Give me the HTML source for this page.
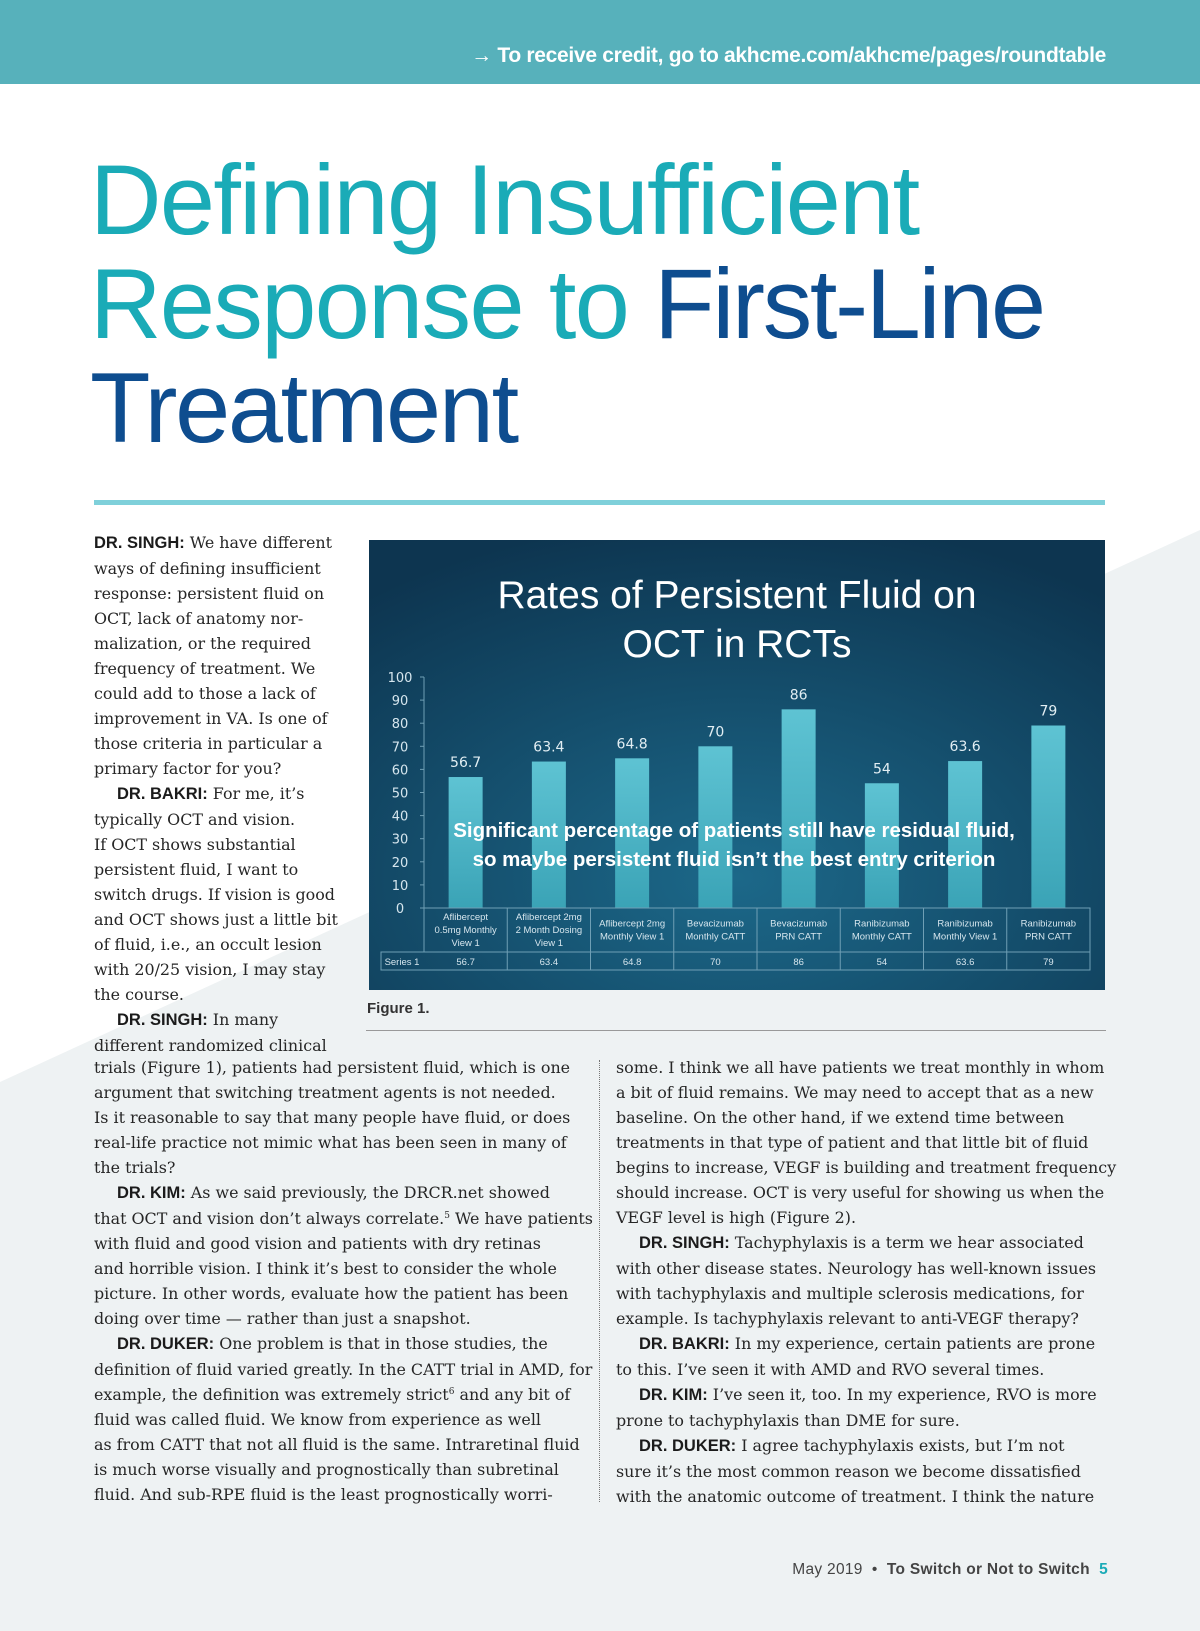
<!DOCTYPE html>
<html><head><meta charset="utf-8"><style>
*{margin:0;padding:0;box-sizing:border-box}
body{width:1200px;height:1631px;position:relative;overflow:hidden;background:#fff;font-family:"Liberation Serif",serif;color:#222}
.abs{position:absolute}
.hdr{left:0;top:0;width:1200px;height:84px;background:#57b1bb}
.hdr span{position:absolute;right:94px;top:44px;color:#fff;font:bold 21px "Liberation Sans",sans-serif;letter-spacing:-0.3px}
.title{left:90px;top:148px;font:400 99px/104px "Liberation Sans",sans-serif;letter-spacing:-1.6px;color:#1aabb7}
.title .n{color:#0e4d8f;letter-spacing:-2.3px}
.rule{left:94px;top:500px;width:1011px;height:5px;background:#7fd0da}
.txt{font-family:"DejaVu Serif",serif;font-size:15.9px;line-height:25px;white-space:nowrap;color:#262626}
.txt b{font-family:"Liberation Sans",sans-serif;font-size:16.5px;font-weight:bold;color:#1b1b1b}
.txt sup{font-size:9px;line-height:0;vertical-align:6px}
.ind{padding-left:23px}
</style></head><body>
<svg class="abs" style="left:0;top:0" width="1200" height="1631"><polygon points="0,1082 1200,530 1200,1631 0,1631" fill="#eef2f3"/></svg>
<div class="abs hdr"><span>→ To receive credit, go to akhcme.com/akhcme/pages/roundtable</span></div>
<div class="abs title">Defining Insufficient<br>Response to <span class="n">First-Line</span><br><span class="n">Treatment</span></div>
<div class="abs rule"></div>

<div class="abs txt" style="left:94px;top:530px">
<b>DR. SINGH:</b> We have different<br>ways of defining insufficient<br>response: persistent fluid on<br>OCT, lack of anatomy nor-<br>malization, or the required<br>frequency of treatment. We<br>could add to those a lack of<br>improvement in VA. Is one of<br>those criteria in particular a<br>primary factor for you?<br>
<div class="ind"><b>DR. BAKRI:</b> For me, it’s</div>typically OCT and vision.<br>If OCT shows substantial<br>persistent fluid, I want to<br>switch drugs. If vision is good<br>and OCT shows just a little bit<br>of fluid, i.e., an occult lesion<br>with 20/25 vision, I may stay<br>the course.<br>
<div class="ind"><b>DR. SINGH:</b> In many</div>different randomized clinical
</div>

<div class="abs txt" style="left:94px;top:1055px">
trials (Figure 1), patients had persistent fluid, which is one<br>argument that switching treatment agents is not needed.<br>Is it reasonable to say that many people have fluid, or does<br>real-life practice not mimic what has been seen in many of<br>the trials?<br>
<div class="ind"><b>DR. KIM:</b> As we said previously, the DRCR.net showed</div>that OCT and vision don’t always correlate.<sup>5</sup> We have patients<br>with fluid and good vision and patients with dry retinas<br>and horrible vision. I think it’s best to consider the whole<br>picture. In other words, evaluate how the patient has been<br>doing over time — rather than just a snapshot.<br>
<div class="ind"><b>DR. DUKER:</b> One problem is that in those studies, the</div>definition of fluid varied greatly. In the CATT trial in AMD, for<br>example, the definition was extremely strict<sup>6</sup> and any bit of<br>fluid was called fluid. We know from experience as well<br>as from CATT that not all fluid is the same. Intraretinal fluid<br>is much worse visually and prognostically than subretinal<br>fluid. And sub-RPE fluid is the least prognostically worri-
</div>
<div class="abs" style="left:599px;top:1060px;height:442px;border-left:1px dotted #777"></div>
<div class="abs txt" style="left:616px;top:1055px">
some. I think we all have patients we treat monthly in whom<br>a bit of fluid remains. We may need to accept that as a new<br>baseline. On the other hand, if we extend time between<br>treatments in that type of patient and that little bit of fluid<br>begins to increase, VEGF is building and treatment frequency<br>should increase. OCT is very useful for showing us when the<br>VEGF level is high (Figure 2).<br>
<div class="ind"><b>DR. SINGH:</b> Tachyphylaxis is a term we hear associated</div>with other disease states. Neurology has well-known issues<br>with tachyphylaxis and multiple sclerosis medications, for<br>example. Is tachyphylaxis relevant to anti-VEGF therapy?<br>
<div class="ind"><b>DR. BAKRI:</b> In my experience, certain patients are prone</div>to this. I’ve seen it with AMD and RVO several times.<br>
<div class="ind"><b>DR. KIM:</b> I’ve seen it, too. In my experience, RVO is more</div>prone to tachyphylaxis than DME for sure.<br>
<div class="ind"><b>DR. DUKER:</b> I agree tachyphylaxis exists, but I’m not</div>sure it’s the most common reason we become dissatisfied<br>with the anatomic outcome of treatment. I think the nature
</div>

<div class="abs" style="left:367px;top:1000px;font:bold 15px 'Liberation Sans',sans-serif;color:#333">Figure 1.</div>
<div class="abs" style="left:366px;top:1030px;width:740px;height:1px;background:#999"></div>

<svg class="abs" id="chart" style="left:369px;top:540px" width="736" height="450">
<defs>
<radialGradient id="bg" cx="0.5" cy="0.75" r="0.8"><stop offset="0" stop-color="#1c6889"/><stop offset="1" stop-color="#0d3550"/></radialGradient>
<linearGradient id="bar" x1="0" x2="0" y1="0" y2="1"><stop offset="0" stop-color="#5ec3d3"/><stop offset="1" stop-color="#3aa3b6"/></linearGradient>
</defs>
<rect width="736" height="450" fill="url(#bg)"/>
<text x="368" y="68" text-anchor="middle" fill="#fff" font-family="Liberation Sans, sans-serif" font-size="39">Rates of Persistent Fluid on</text>
<text x="368" y="117" text-anchor="middle" fill="#fff" font-family="Liberation Sans, sans-serif" font-size="39">OCT in RCTs</text>
<g id="g"></g>
<text x="365" y="297" text-anchor="middle" fill="#fff" font-family="Liberation Sans, sans-serif" font-weight="bold" font-size="20.5">Significant percentage of patients still have residual fluid,</text>
<text x="365" y="326" text-anchor="middle" fill="#fff" font-family="Liberation Sans, sans-serif" font-weight="bold" font-size="20.5">so maybe persistent fluid isn’t the best entry criterion</text>
</svg>
<script>
const categories=[["Aflibercept","0.5mg Monthly","View 1"],["Aflibercept 2mg","2 Month Dosing","View 1"],["Aflibercept 2mg","Monthly View 1"],["Bevacizumab","Monthly CATT"],["Bevacizumab","PRN CATT"],["Ranibizumab","Monthly CATT"],["Ranibizumab","Monthly View 1"],["Ranibizumab","PRN CATT"]];
const values=[56.7,63.4,64.8,70,86,54,63.6,79];
const valueLabels=["56.7","63.4","64.8","70","86","54","63.6","79"];
const yTicks=[0,10,20,30,40,50,60,70,80,90,100];
const NS="http://www.w3.org/2000/svg";
const g=document.getElementById('g');
const axX=55,y0=368,y100=137,tblL=12,tblR=721,plotL=55,plotR=721;
const band=(plotR-plotL)/categories.length;
const y=v=>y0-(v/100)*(y0-y100);
const xc=i=>plotL+band*(i+0.5);
function mk(t,a){const e=document.createElementNS(NS,t);for(const k in a)e.setAttribute(k,a[k]);g.appendChild(e);return e;}
const ax=mk('line',{x1:axX,x2:axX,y1:y100,y2:y0,stroke:'#6f9fb5','stroke-width':1});


yTicks.forEach(t=>{
 const tk=mk('line',{x1:axX-4,x2:axX,y1:y(t),y2:y(t),stroke:'#6f9fb5'});
 
 
 const tl=mk('text',{x:axX-24,y:y(t)+5,'text-anchor':'middle',fill:'#d6e6ee','font-size':13,'font-family':'DejaVu Sans, sans-serif'});
 tl.textContent=t;
 
 
});
values.forEach((v,i)=>{
 const b=mk('rect',{x:xc(i)-17,y:y(v),width:34,height:y0-y(v),fill:'url(#bar)'});
 
 
 const l=mk('text',{x:xc(i),y:y(v)-10,'text-anchor':'middle',fill:'#e2eef3','font-size':14,'font-family':'DejaVu Sans, sans-serif'});
 l.textContent=valueLabels[i];
 
 
});
const st={stroke:'#6f9fb5','stroke-width':1,fill:'none'};
const t1=mk('rect',Object.assign({x:plotL,y:y0,width:plotR-plotL,height:44},st));


const t2=mk('rect',Object.assign({x:tblL,y:y0+44,width:tblR-tblL,height:18},st));


const s=mk('text',{x:tblL+21,y:y0+57,'text-anchor':'middle',fill:'#d6e6ee','font-size':9.5,'font-family':'Liberation Sans, sans-serif'});
s.textContent='Series 1';


categories.forEach((c,i)=>{
 const d=mk('line',{x1:plotL+band*(i+1),x2:plotL+band*(i+1),y1:y0,y2:y0+62,stroke:'#6f9fb5'});
 
 
 const top=y0+22-(c.length-1)*6.5+3;
 c.forEach((ln,j)=>{
  const tt=mk('text',{x:xc(i),y:top+j*13,'text-anchor':'middle',fill:'#d6e6ee','font-size':9.5,'font-family':'Liberation Sans, sans-serif'});
  tt.textContent=ln;
  
  
 });
 const vv=mk('text',{x:xc(i),y:y0+57,'text-anchor':'middle',fill:'#d6e6ee','font-size':9.5,'font-family':'Liberation Sans, sans-serif'});
 vv.textContent=valueLabels[i];
 
 
});
</script>

<div class="abs" style="right:92px;top:1561px;font:15.5px 'Liberation Sans',sans-serif;color:#444;letter-spacing:0.3px;white-space:nowrap">May 2019 &nbsp;• &nbsp;<b>To Switch or Not to Switch</b> &nbsp;<b style="color:#1aabb7">5</b></div>
</body></html>
